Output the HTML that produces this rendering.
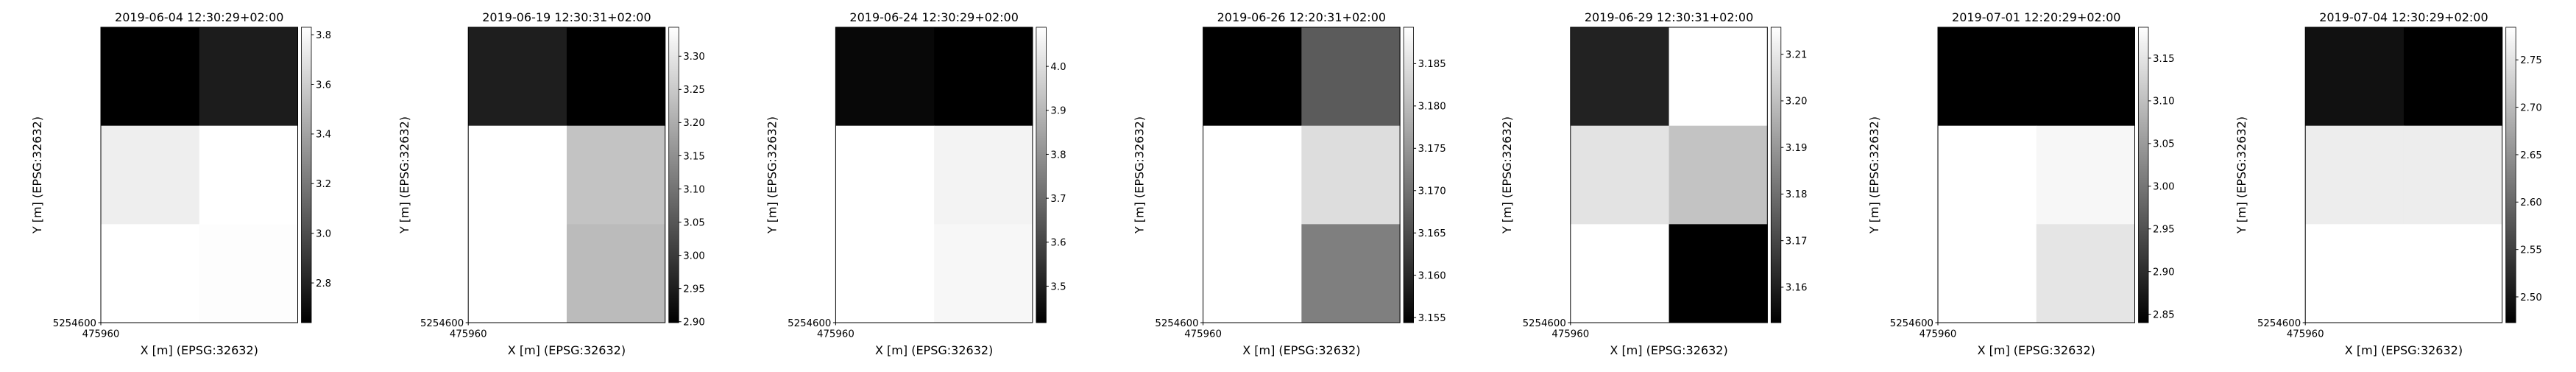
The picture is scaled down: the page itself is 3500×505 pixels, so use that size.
<!DOCTYPE html>
<html><head><meta charset="utf-8"><style>
html,body{margin:0;padding:0;background:#fff;}
svg text{font-family:"DejaVu Sans","Liberation Sans",sans-serif;fill:#000;}
</style></head><body>
<svg id="chart" width="3500" height="500" viewBox="0 0 3500 500" xmlns="http://www.w3.org/2000/svg"></svg>
<script>
const titles = ["2019-06-04 12:30:29+02:00","2019-06-19 12:30:31+02:00","2019-06-24 12:30:29+02:00","2019-06-26 12:20:31+02:00","2019-06-29 12:30:31+02:00","2019-07-01 12:20:29+02:00","2019-07-04 12:30:29+02:00"];
const vmins = [2.64, 2.8986, 3.417, 3.1544, 3.1524, 2.8402, 2.4728];
const vmaxs = [3.83, 3.3436, 4.089, 3.1893, 3.2158, 3.1862, 2.7844];
// cell values per panel, rows top->bottom, each [col0, col1]
const cells1 = [[2.64,2.77],[3.75,3.83],[3.83,3.82]];
const cells2 = [[2.951,2.899],[3.344,3.239],[3.344,3.225]];
const cells3 = [[3.438,3.417],[4.089,4.057],[4.089,4.068]];
const cells4 = [[3.1544,3.1669],[3.1893,3.1846],[3.1893,3.1718]];
const cells5 = [[3.1608,3.2158],[3.2088,3.2009],[3.2158,3.1524]];
const cells6 = [[2.8402,2.8402],[3.1862,3.175],[3.1862,3.151]];
const cells7 = [[2.4936,2.4728],[2.7624,2.7624],[2.7844,2.7844]];
const ticks1 = [2.8,3.0,3.2,3.4,3.6,3.8];
const ticks2 = [2.90,2.95,3.00,3.05,3.10,3.15,3.20,3.25,3.30];
const ticks3 = [3.5,3.6,3.7,3.8,3.9,4.0];
const ticks4 = [3.155,3.160,3.165,3.170,3.175,3.180,3.185];
const ticks5 = [3.16,3.17,3.18,3.19,3.20,3.21];
const ticks6 = [2.85,2.90,2.95,3.00,3.05,3.10,3.15];
const ticks7 = [2.50,2.55,2.60,2.65,2.70,2.75];
const tickDecimals = [1,2,1,3,2,2,2];
const xTickLabel = "475960";
const yTickLabel = "5254600";

const allCells=[cells1,cells2,cells3,cells4,cells5,cells6,cells7];
const allTicks=[ticks1,ticks2,ticks3,ticks4,ticks5,ticks6,ticks7];
const NS="http://www.w3.org/2000/svg";
const svg=document.getElementById('chart');
function mk(tag,attrs,parent){const e=document.createElementNS(NS,tag);for(const k in attrs)e.setAttribute(k,attrs[k]);parent.appendChild(e);return e;}
const TOP=37,BOT=438,PW=267.5,STEP=499.2,X0=137;
function gray(v,lo,hi){let t=(v-lo)/(hi-lo);t=Math.max(0,Math.min(1,t));const g=Math.round(t*255);return `rgb(${g},${g},${g})`;}
for(let p=0;p<7;p++){
  const L=X0+p*STEP, R=L+PW;
  const g=mk('g',{},svg);
  
  
  const lo=vmins[p],hi=vmaxs[p],cells=allCells[p];
  const nr=cells.length,nc=cells[0].length;
  const cw=PW/nc,ch=(BOT-TOP)/nr;
  for(let r=0;r<nr;r++)for(let c=0;c<nc;c++){
    const rc=mk('rect',{x:L+c*cw,y:TOP+r*ch,width:cw+0.5,height:ch+0.5,fill:gray(cells[r][c],lo,hi)},g);
    
    
  }
  const fr=mk('rect',{x:L,y:TOP,width:PW,height:BOT-TOP,fill:'none',stroke:'#000','stroke-width':1},g);
  
  
  const t=mk('text',{x:L+PW/2,y:29,'text-anchor':'middle','font-size':16},g);t.textContent=titles[p];
  
  
  mk('line',{x1:L-3.5,y1:BOT,x2:L,y2:BOT,stroke:'#000','stroke-width':1},g);
  mk('line',{x1:L,y1:BOT,x2:L,y2:BOT+3.5,stroke:'#000','stroke-width':1},g);
  const yt=mk('text',{x:L-6,y:BOT+5,'text-anchor':'end','font-size':13.3},g);yt.textContent=yTickLabel;
  
  
  const xt=mk('text',{x:L,y:BOT+19.5,'text-anchor':'middle','font-size':13.3},g);xt.textContent=xTickLabel;
  
  
  const xl=mk('text',{x:L+PW/2,y:481,'text-anchor':'middle','font-size':16},g);xl.textContent="X [m] (EPSG:32632)";
  
  
  const yl=mk('text',{x:0,y:0,'text-anchor':'middle','font-size':16,transform:`translate(${L-81},${(TOP+BOT)/2}) rotate(-90)`},g);yl.textContent="Y [m] (EPSG:32632)";
  
  
  const CL=R+5, CW=13.5;
  const gid='grad'+p;
  const defs=mk('defs',{},g);
  const lg=mk('linearGradient',{id:gid,x1:0,y1:1,x2:0,y2:0},defs);
  mk('stop',{offset:0,'stop-color':'#000'},lg);mk('stop',{offset:1,'stop-color':'#fff'},lg);
  const cb=mk('rect',{x:CL,y:TOP,width:CW,height:BOT-TOP,fill:`url(#${gid})`,stroke:'#000','stroke-width':0.8},g);
  
  
  const ys=v=>BOT-(v-lo)/(hi-lo)*(BOT-TOP);
  allTicks[p].forEach(v=>{
    const y=ys(v);
    mk('line',{x1:CL+CW,y1:y,x2:CL+CW+3.5,y2:y,stroke:'#000','stroke-width':1},g);
    const tl=mk('text',{x:CL+CW+6,y:y+4.8,'font-size':13.3},g);tl.textContent=v.toFixed(tickDecimals[p]);
    
    
  });
}
</script>
</body></html>
